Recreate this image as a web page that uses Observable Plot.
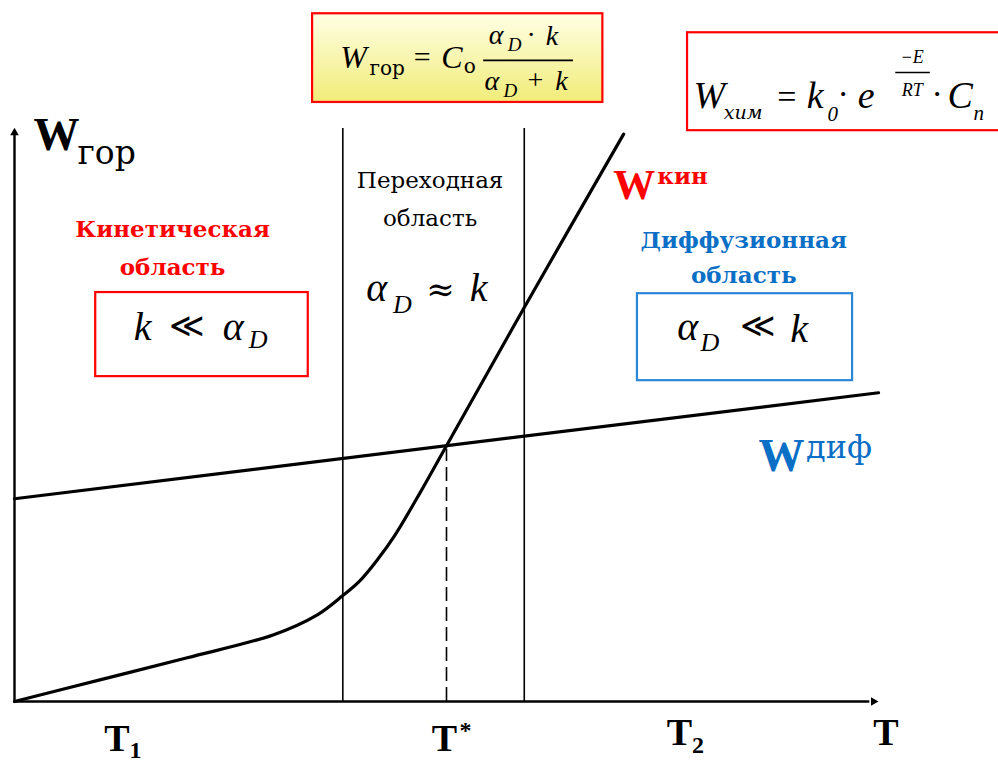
<!DOCTYPE html>
<html>
<head>
<meta charset="utf-8">
<script src="https://cdn.jsdelivr.net/npm/d3@7"></script>
<script src="https://cdn.jsdelivr.net/npm/@observablehq/plot@0.6"></script>
<style>
  html, body { margin: 0; padding: 0; background: #fff; overflow: hidden; }
</style>
</head>
<body>
<div id="chart"></div>
<script>
// Rate of combustion vs. temperature: kinetic curve and diffusion line
const kinT = [0, 10, 20, 30, 35, 38, 40, 42, 44, 47, 50, 59, 70.5];
const kinW = [0, 3.8, 7.6, 11.6, 15.0, 18.4, 21.0, 24.6, 28.8, 36.4, 44.4, 68.4, 98.5];
const difT = [0, 100];
const difW = [35.2, 53.6];

// Region boundaries and the crossover temperature
const regionBounds = [38, 59];
const tStar = 50;

// Axis labels along T
const tickNames = ["T", "T", "T", "T"];
const tickMarks = ["1", "*", "2", ""];

const kin = kinT.map((t, i) => ({T: t, W: kinW[i]}));
const dif = difT.map((t, i) => ({T: t, W: difW[i]}));
const wStar = difW[0] + (difW[1] - difW[0]) * (tStar - difT[0]) / (difT[1] - difT[0]);

const SERIF = "'Liberation Serif', 'Times New Roman', serif";
const CYR = "'DejaVu Serif', serif";
const RED = "#ff0000";
const BLUE = "#0b6fc6";

// text helper: items are {x, y, t}
function txt(items, o = {}) {
  return Plot.text(items, {
    x: "x", y: "y", text: "t",
    lineAnchor: "bottom",
    textAnchor: o.anchor || "start",
    fontFamily: o.font || SERIF,
    fontSize: o.size || 20,
    fontStyle: o.italic ? "italic" : "normal",
    fontWeight: o.bold ? "bold" : "normal",
    fill: o.color || "black"
  });
}

const boxes = [
  {x1: 34.5, x2: 68.1, y1: 104.0, y2: 119.4, fill: "url(#formulaFill)", stroke: RED},
  {x1: 77.9, x2: 118, y1: 99.1, y2: 116.1, fill: "white", stroke: RED},
  {x1: 9.4, x2: 34.0, y1: 56.4, y2: 71.0, fill: "white", stroke: RED},
  {x1: 72.1, x2: 97.0, y1: 55.7, y2: 70.8, fill: "white", stroke: "#2a86d6"}
];

const fractionBars = [
  {x1: 54.3, x2: 64.7, y: 111.3},
  {x1: 102.0, x2: 106.0, y: 109.2}
];

const tickLabels = [
  {x: 10.4, y: -8.6, sx: 13.3, sy: -9.8},
  {x: 48.3, y: -8.6, sx: 51.5, sy: -6.4},
  {x: 75.5, y: -7.6, sx: 78.4, sy: -8.9},
  {x: 99.4, y: -7.6, sx: 102, sy: -7.6}
];

const svg = Plot.plot({
  width: 998,
  height: 762,
  marginLeft: 14,
  marginRight: 120,
  marginTop: 125,
  marginBottom: 61,
  x: {domain: [0, 100], axis: null},
  y: {domain: [0, 100], axis: null},
  marks: [
    // formula and condition boxes
    Plot.rect(boxes, {x1: "x1", x2: "x2", y1: "y1", y2: "y2", fill: "white", stroke: "stroke", strokeWidth: 2.2}),
    // region boundaries
    Plot.ruleX(regionBounds, {y1: 0, y2: 99.5, stroke: "black", strokeWidth: 1.6}),
    Plot.ruleX([tStar], {y1: 0, y2: wStar - 0.6, stroke: "black", strokeWidth: 1.6, strokeDasharray: "14,6"}),
    // axes
    Plot.ruleY([0], {x1: 0, x2: 99, stroke: "black", strokeWidth: 2.4}),
    Plot.ruleX([0], {y1: 0, y2: 99, stroke: "black", strokeWidth: 2.4}),
    Plot.dot([{x: 0, y: 99.6}], {x: "x", y: "y", symbol: "triangle", r: 3.2, fill: "black", dy: 5}),
    Plot.dot([{x: 100, y: 0}], {x: "x", y: "y", symbol: "triangle", r: 3.2, fill: "black", rotate: 90, dx: -5}),
    // rate curves
    Plot.line(dif, {x: "T", y: "W", stroke: "black", strokeWidth: 3.2}),
    Plot.line(kin, {x: "T", y: "W", stroke: "black", strokeWidth: 3.2, curve: "catmull-rom"}),
    // fraction bars in formulas
    Plot.ruleY(fractionBars, {x1: "x1", x2: "x2", y: "y", stroke: "black", strokeWidth: 1.6}),

    // W_гор = C_о · αD·k / (αD + k)
    txt([{x: 37.7, y: 109.9, t: "W"}, {x: 49.4, y: 109.9, t: "C"}], {italic: true, size: 32}),
    txt([{x: 41.1, y: 108.7, t: "гор"}, {x: 52.0, y: 109.2, t: "о"}], {size: 20, font: CYR}),
    txt([{x: 47.2, y: 110.2, t: "="}], {size: 30, anchor: "middle"}),
    txt([{x: 54.9, y: 114.2, t: "α"}, {x: 61.5, y: 113.9, t: "k"}, {x: 54.4, y: 106.1, t: "α"}, {x: 62.6, y: 106.1, t: "k"}], {italic: true, size: 28}),
    txt([{x: 57.1, y: 113.0, t: "D"}, {x: 56.6, y: 104.9, t: "D"}], {italic: true, size: 19}),
    txt([{x: 59.8, y: 114.1, t: "·"}, {x: 60.3, y: 106.3, t: "+"}], {size: 28, anchor: "middle"}),

    // W_хим = k0 · e^(−E/RT) · Cn
    txt([{x: 78.6, y: 103.0, t: "W"}, {x: 91.7, y: 103.0, t: "k"}, {x: 97.6, y: 103.0, t: "e"}, {x: 108.0, y: 103.0, t: "C"}], {italic: true, size: 38}),
    txt([{x: 82.1, y: 101.2, t: "хим"}], {italic: true, size: 19, font: CYR}),
    txt([{x: 94.1, y: 100.8, t: "0"}, {x: 111.0, y: 100.9, t: "n"}], {italic: true, size: 21}),
    txt([{x: 89.4, y: 103.1, t: "="}], {size: 34, anchor: "middle"}),
    txt([{x: 95.9, y: 103.5, t: "·"}, {x: 106.8, y: 103.5, t: "·"}], {size: 34, anchor: "middle"}),
    txt([{x: 103.9, y: 110.9, t: "−E"}, {x: 103.9, y: 105.2, t: "RT"}], {italic: true, size: 18, anchor: "middle"}),

    // vertical axis title
    txt([{x: 2.2, y: 95.7, t: "W"}], {bold: true, size: 46}),
    txt([{x: 7.3, y: 93.4, t: "гор"}], {size: 33, font: CYR}),

    // region titles
    txt([{x: 18.3, y: 80.7, t: "Кинетическая"}, {x: 18.3, y: 74.0, t: "область"}], {bold: true, size: 23, color: RED, anchor: "middle", font: CYR}),
    txt([{x: 48.1, y: 89.1, t: "Переходная"}, {x: 48.1, y: 82.6, t: "область"}], {size: 23, anchor: "middle", font: CYR}),
    txt([{x: 84.4, y: 78.8, t: "Диффузионная"}, {x: 84.4, y: 72.6, t: "область"}], {bold: true, size: 23, color: BLUE, anchor: "middle", font: CYR}),

    // region conditions
    txt([{x: 13.8, y: 62.7, t: "k"}, {x: 24.1, y: 62.7, t: "α"}, {x: 40.7, y: 69.6, t: "α"}, {x: 52.7, y: 69.6, t: "k"}, {x: 76.7, y: 62.7, t: "α"}, {x: 89.8, y: 62.5, t: "k"}], {italic: true, size: 40}),
    txt([{x: 27.1, y: 61.3, t: "D"}, {x: 43.8, y: 67.4, t: "D"}, {x: 79.4, y: 60.9, t: "D"}], {italic: true, size: 26}),
    txt([{x: 20.0, y: 63.2, t: "≪"}, {x: 49.3, y: 69.6, t: "≈"}, {x: 86.1, y: 63.2, t: "≪"}], {size: 34, anchor: "middle", font: CYR}),

    // curve labels
    txt([{x: 69.3, y: 87.3, t: "W"}], {bold: true, size: 42, color: RED}),
    txt([{x: 74.4, y: 89.9, t: "кин"}], {bold: true, size: 23, color: RED, font: CYR}),
    txt([{x: 86.1, y: 40.1, t: "W"}], {bold: true, size: 46, color: BLUE}),
    txt([{x: 91.6, y: 42.2, t: "диф"}], {size: 32, color: BLUE, font: CYR}),

    // temperature labels
    txt(tickLabels.map((d, i) => ({x: d.x, y: d.y, t: tickNames[i]})), {bold: true, size: 38}),
    txt(tickLabels.map((d, i) => ({x: d.sx, y: d.sy, t: tickMarks[i]})), {bold: true, size: 24})
  ]
});

// gradient for the combustion-rate formula box
const defs = d3.select(svg).insert("defs", ":first-child");
const grad = defs.append("linearGradient").attr("id", "formulaFill")
  .attr("x1", 0).attr("y1", 0).attr("x2", 0).attr("y2", 1);
grad.append("stop").attr("offset", "0%").attr("stop-color", "#ffffe6");
grad.append("stop").attr("offset", "100%").attr("stop-color", "#f1ec78");
d3.select(svg).selectAll("rect").each(function(d, i) {
  const b = boxes[i];
  if (b) d3.select(this).attr("fill", b.fill);
});

document.getElementById("chart").append(svg);
</script>
</body>
</html>
